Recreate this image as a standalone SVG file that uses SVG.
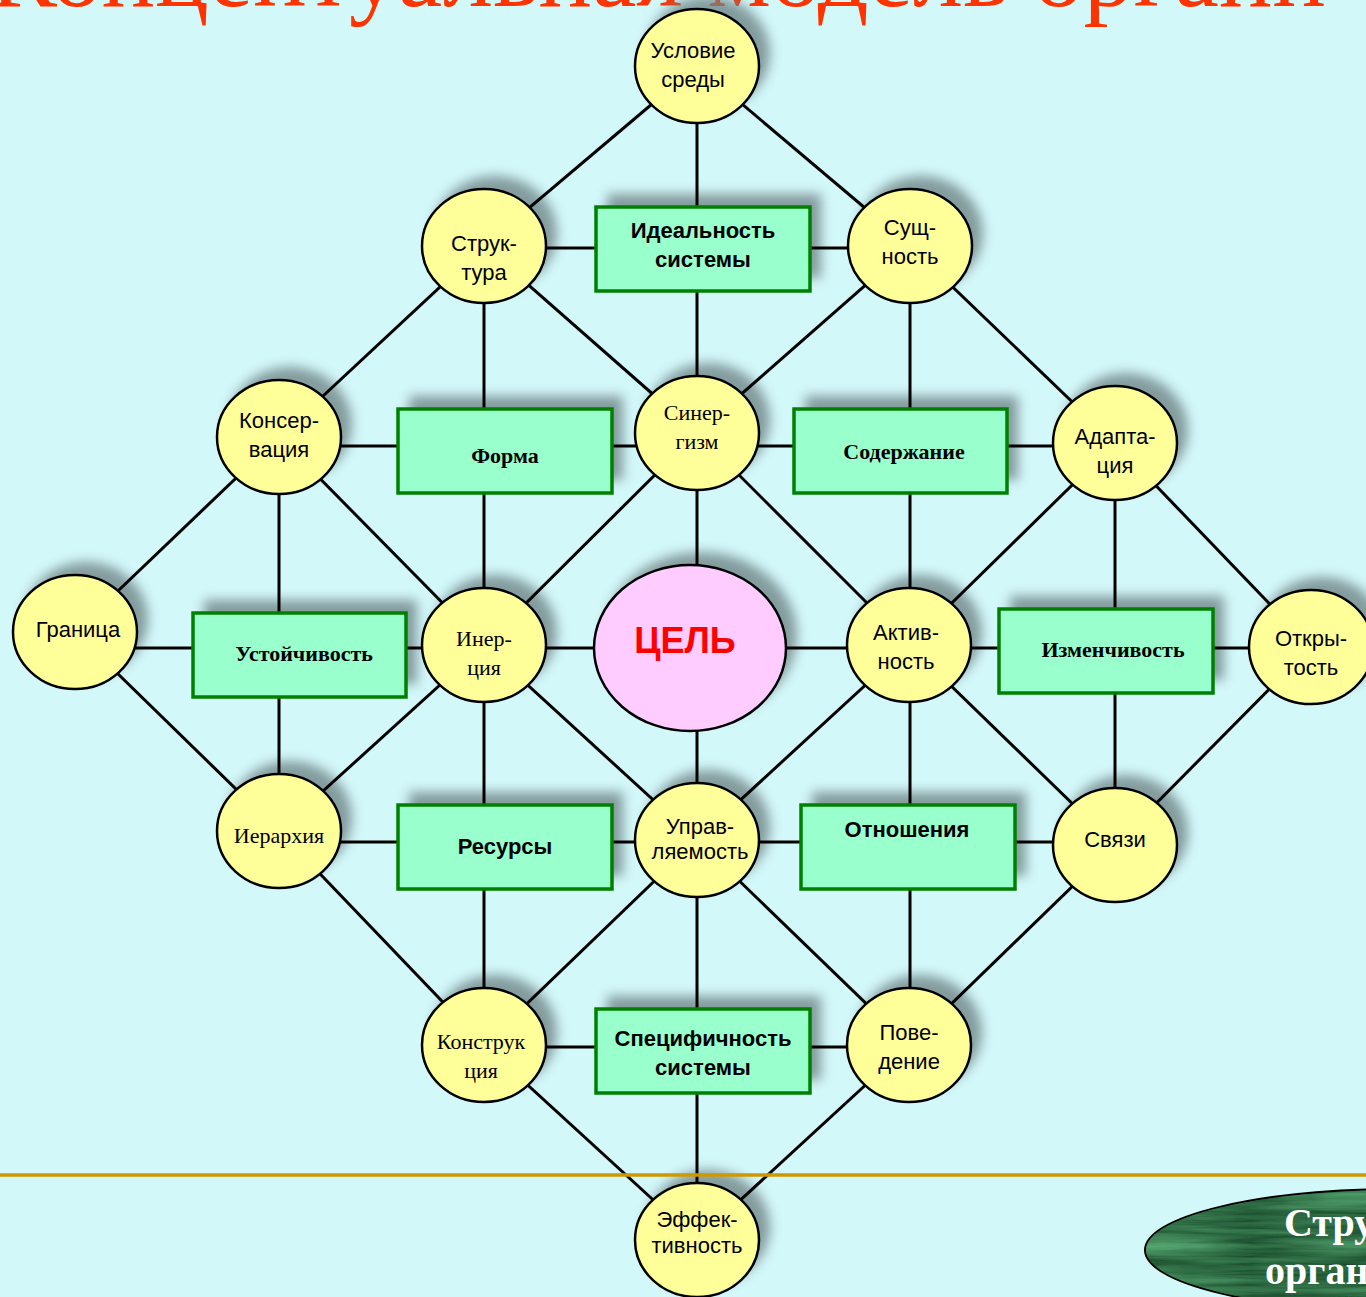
<svg xmlns="http://www.w3.org/2000/svg" width="1366" height="1297" viewBox="0 0 1366 1297">
<defs>
<style>
.c{fill:#FFFF99;stroke:#000;stroke-width:2.5}
.r{fill:#99FFCC;stroke:#008000;stroke-width:3.5}
.sh{fill:#6f8486;opacity:0.8}
.ln{stroke:#000;stroke-width:3;fill:none}
.sa{font-family:"Liberation Sans",Arial,sans-serif;font-size:22px;fill:#000;text-anchor:middle}
.ss{font-family:"Liberation Serif","Times New Roman",serif;font-size:22px;fill:#000;text-anchor:middle}
.b{font-weight:bold}
</style>
<filter id="blur" x="-30%" y="-30%" width="160%" height="160%"><feGaussianBlur stdDeviation="6"/></filter>
<filter id="marble" x="0" y="0" width="100%" height="100%" color-interpolation-filters="sRGB">
<feTurbulence type="turbulence" baseFrequency="0.004 0.07" numOctaves="4" seed="3" result="t"/>
<feColorMatrix in="t" type="matrix" values="0.3 0 0 0 0.1  0.45 0 0 0 0.3  0.35 0 0 0 0.17  0 0 0 0 1" result="m"/>
<feComposite in="m" in2="SourceGraphic" operator="in"/>
</filter>
</defs>
<rect width="1366" height="1297" fill="#D3F8FA"/>
<text x="-10" y="6" font-family="'Liberation Serif','Times New Roman',serif" font-size="100" fill="#FF3300">Концептуальная модель органи</text>

<g id="shadows" class="sh" filter="url(#blur)" transform="translate(11,-13)">
<ellipse cx="697" cy="66" rx="62" ry="57"/>
<ellipse cx="484" cy="246" rx="62" ry="57"/>
<ellipse cx="910" cy="246" rx="62" ry="57"/>
<ellipse cx="279" cy="437" rx="62" ry="57"/>
<ellipse cx="697" cy="433" rx="62" ry="57"/>
<ellipse cx="1115" cy="443" rx="62" ry="57"/>
<ellipse cx="75" cy="632" rx="62" ry="57"/>
<ellipse cx="484" cy="645" rx="62" ry="57"/>
<ellipse cx="690" cy="648" rx="96" ry="83"/>
<ellipse cx="909" cy="645" rx="62" ry="57"/>
<ellipse cx="1311" cy="647" rx="62" ry="57"/>
<ellipse cx="279" cy="831" rx="62" ry="57"/>
<ellipse cx="697" cy="840" rx="62" ry="57"/>
<ellipse cx="1115" cy="845" rx="62" ry="57"/>
<ellipse cx="484" cy="1045" rx="62" ry="57"/>
<ellipse cx="909" cy="1045" rx="62" ry="57"/>
<ellipse cx="697" cy="1240" rx="62" ry="57"/>
<rect x="596" y="207" width="214" height="84"/>
<rect x="398" y="409" width="214" height="84"/>
<rect x="794" y="409" width="213" height="84"/>
<rect x="193" y="613" width="213" height="84"/>
<rect x="999" y="609" width="214" height="84"/>
<rect x="398" y="805" width="214" height="84"/>
<rect x="801" y="805" width="214" height="84"/>
<rect x="596" y="1009" width="214" height="84"/>
</g>

<g id="connectors" class="ln">
<line x1="484" y1="248" x2="910" y2="248"/>
<line x1="279" y1="446" x2="1115" y2="446"/>
<line x1="75" y1="648" x2="1311" y2="648"/>
<line x1="279" y1="842" x2="1115" y2="842"/>
<line x1="484" y1="1047" x2="909" y2="1047"/>
<line x1="697" y1="66" x2="697" y2="1240"/>
<line x1="484" y1="246" x2="484" y2="1045"/>
<line x1="910" y1="246" x2="910" y2="1045"/>
<line x1="279" y1="437" x2="279" y2="831"/>
<line x1="1115" y1="443" x2="1115" y2="845"/>
<line x1="697" y1="66" x2="484" y2="246"/>
<line x1="697" y1="66" x2="910" y2="246"/>
<line x1="484" y1="246" x2="279" y2="437"/>
<line x1="484" y1="246" x2="697" y2="433"/>
<line x1="910" y1="246" x2="697" y2="433"/>
<line x1="910" y1="246" x2="1115" y2="443"/>
<line x1="279" y1="437" x2="75" y2="632"/>
<line x1="279" y1="437" x2="484" y2="645"/>
<line x1="697" y1="433" x2="484" y2="645"/>
<line x1="697" y1="433" x2="909" y2="645"/>
<line x1="1115" y1="443" x2="909" y2="645"/>
<line x1="1115" y1="443" x2="1311" y2="647"/>
<line x1="75" y1="632" x2="279" y2="831"/>
<line x1="484" y1="645" x2="279" y2="831"/>
<line x1="484" y1="645" x2="697" y2="840"/>
<line x1="909" y1="645" x2="697" y2="840"/>
<line x1="909" y1="645" x2="1115" y2="845"/>
<line x1="1311" y1="647" x2="1115" y2="845"/>
<line x1="279" y1="831" x2="484" y2="1045"/>
<line x1="697" y1="840" x2="484" y2="1045"/>
<line x1="697" y1="840" x2="909" y2="1045"/>
<line x1="1115" y1="845" x2="909" y2="1045"/>
<line x1="484" y1="1045" x2="697" y2="1240"/>
<line x1="909" y1="1045" x2="697" y2="1240"/>
</g>

<line x1="0" y1="1175" x2="1366" y2="1175" stroke="#CC9900" stroke-width="3.5"/>

<g id="n-uslovie"><ellipse class="c" cx="697" cy="66" rx="62" ry="57"/><text class="sa" x="693" y="58">Условие</text><text class="sa" x="693" y="87">среды</text></g>
<g id="n-struktura"><ellipse class="c" cx="484" cy="246" rx="62" ry="57"/><text class="sa" x="484" y="251" font-size="24">Струк-</text><text class="sa" x="484" y="280" font-size="24">тура</text></g>
<g id="n-sushnost"><ellipse class="c" cx="910" cy="246" rx="62" ry="57"/><text class="sa" x="910" y="235">Сущ-</text><text class="sa" x="910" y="264">ность</text></g>
<g id="n-konservaciya"><ellipse class="c" cx="279" cy="437" rx="62" ry="57"/><text class="sa" x="279" y="428">Консер-</text><text class="sa" x="279" y="457">вация</text></g>
<g id="n-sinergizm"><ellipse class="c" cx="697" cy="433" rx="62" ry="57"/><text class="ss" x="697" y="420">Синер-</text><text class="ss" x="697" y="449">гизм</text></g>
<g id="n-adaptaciya"><ellipse class="c" cx="1115" cy="443" rx="62" ry="57"/><text class="sa" x="1115" y="444">Адапта-</text><text class="sa" x="1115" y="473">ция</text></g>
<g id="n-granica"><ellipse class="c" cx="75" cy="632" rx="62" ry="57"/><text class="sa" x="78" y="637">Граница</text></g>
<g id="n-inerciya"><ellipse class="c" cx="484" cy="645" rx="62" ry="57"/><text class="ss" x="484" y="646">Инер-</text><text class="ss" x="484" y="675">ция</text></g>
<g id="n-cel"><ellipse cx="690" cy="648" rx="96" ry="83" fill="#FFCCFF" stroke="#000" stroke-width="2.5"/><text x="685" y="653" font-family="'Liberation Sans',Arial,sans-serif" font-size="36" font-weight="bold" fill="#FF0000" text-anchor="middle">ЦЕЛЬ</text></g>
<g id="n-aktivnost"><ellipse class="c" cx="909" cy="645" rx="62" ry="57"/><text class="sa" x="906" y="640">Актив-</text><text class="sa" x="906" y="669">ность</text></g>
<g id="n-otkrytost"><ellipse class="c" cx="1311" cy="647" rx="62" ry="57"/><text class="sa" x="1311" y="646">Откры-</text><text class="sa" x="1311" y="675">тость</text></g>
<g id="n-ierarhiya"><ellipse class="c" cx="279" cy="831" rx="62" ry="57"/><text class="ss" x="279" y="843">Иерархия</text></g>
<g id="n-upravlyaemost"><ellipse class="c" cx="697" cy="840" rx="62" ry="57"/><text class="sa" x="700" y="834" font-size="20">Управ-</text><text class="sa" x="700" y="859" font-size="20">ляемость</text></g>
<g id="n-svyazi"><ellipse class="c" cx="1115" cy="845" rx="62" ry="57"/><text class="sa" x="1115" y="847">Связи</text></g>
<g id="n-konstrukciya"><ellipse class="c" cx="484" cy="1045" rx="62" ry="57"/><text class="ss" x="481" y="1049">Конструк</text><text class="ss" x="481" y="1078">ция</text></g>
<g id="n-povedenie"><ellipse class="c" cx="909" cy="1045" rx="62" ry="57"/><text class="sa" x="909" y="1040">Пове-</text><text class="sa" x="909" y="1069">дение</text></g>
<g id="n-effektivnost"><ellipse class="c" cx="697" cy="1240" rx="62" ry="57"/><text class="sa" x="697" y="1227" font-size="19">Эффек-</text><text class="sa" x="697" y="1253" font-size="19">тивность</text></g>

<g id="r-idealnost"><rect class="r" x="596" y="207" width="214" height="84"/><text class="sa b" x="703" y="238">Идеальность</text><text class="sa b" x="703" y="267">системы</text></g>
<g id="r-forma"><rect class="r" x="398" y="409" width="214" height="84"/><text class="ss b" x="505" y="463">Форма</text></g>
<g id="r-soderzhanie"><rect class="r" x="794" y="409" width="213" height="84"/><text class="ss b" x="904" y="459">Содержание</text></g>
<g id="r-ustoychivost"><rect class="r" x="193" y="613" width="213" height="84"/><text class="ss b" x="304" y="661">Устойчивость</text></g>
<g id="r-izmenchivost"><rect class="r" x="999" y="609" width="214" height="84"/><text class="ss b" x="1113" y="657" font-size="21">Изменчивость</text></g>
<g id="r-resursy"><rect class="r" x="398" y="805" width="214" height="84"/><text class="sa b" x="505" y="854">Ресурсы</text></g>
<g id="r-otnosheniya"><rect class="r" x="801" y="805" width="214" height="84"/><text class="sa b" x="907" y="837">Отношения</text></g>
<g id="r-specifichnost"><rect class="r" x="596" y="1009" width="214" height="84"/><text class="sa b" x="703" y="1046">Специфичность</text><text class="sa b" x="703" y="1075">системы</text></g>

<g id="green-badge">
<ellipse cx="1400" cy="1250" rx="255" ry="61" fill="#1f5a36" stroke="#000" stroke-width="2"/>
<ellipse cx="1400" cy="1250" rx="254" ry="60" fill="#000" filter="url(#marble)"/>
<text x="1284" y="1236" font-family="'Liberation Serif','Times New Roman',serif" font-size="40" font-weight="bold" fill="#FFFFFF">Стру</text>
<text x="1265" y="1284" font-family="'Liberation Serif','Times New Roman',serif" font-size="40" font-weight="bold" fill="#FFFFFF">орган</text>
</g>
</svg>
